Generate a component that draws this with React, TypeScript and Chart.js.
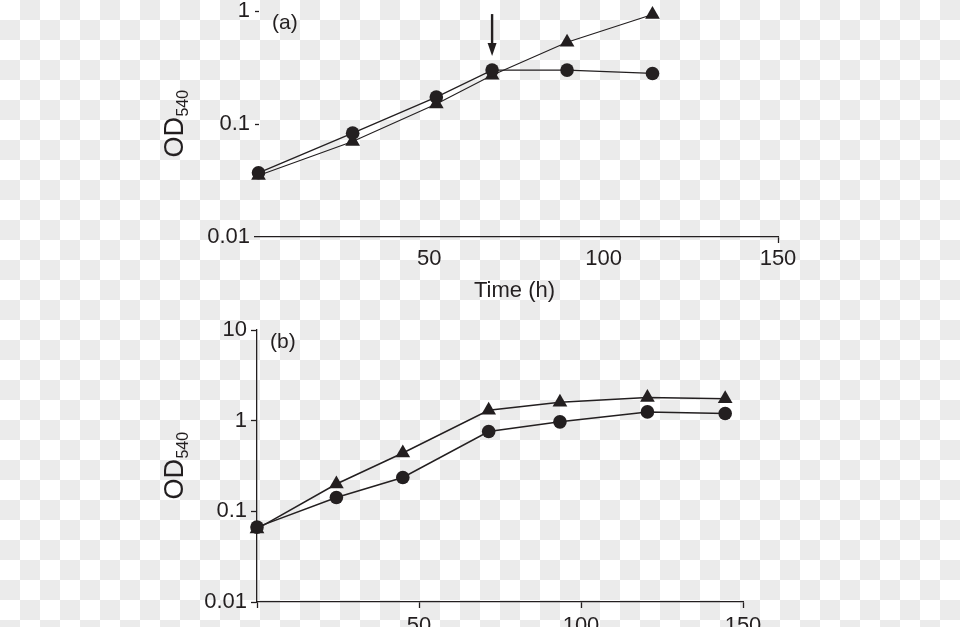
import React, { useEffect, useRef } from "react";
import { Chart, registerables } from "chart.js";

Chart.register(...registerables);

// ---- Data (panel a) ----
const timeA = [1, 28, 52, 68, 89.5, 114];
const odACircle = [0.037, 0.083, 0.173, 0.3, 0.3, 0.28];
const odATriangle = [0.035, 0.07, 0.15, 0.27, 0.53, 0.93];
const yTicksA = [0.01, 0.1, 1];
const yTickLabelsA = ["0.01", "0.1", "1"];
const xTicksA = [50, 100, 150];
const xTickLabelsA = ["50", "100", "150"];
const arrowTime = 68;
const arrowOD = 0.3;

// ---- Data (panel b) ----
const timeB = [0, 24.5, 45, 71.5, 93.5, 120.5, 144.5];
const odBCircle = [0.067, 0.142, 0.236, 0.76, 0.97, 1.25, 1.2];
const odBTriangle = [0.064, 0.2, 0.44, 1.3, 1.6, 1.8, 1.75];
const yTicksB = [0.01, 0.1, 1, 10];
const yTickLabelsB = ["0.01", "0.1", "1", "10"];
const xTicksB = [0, 50, 100, 150];
const xTickLabelsB = ["", "50", "100", "150"];

const INK = "#231f20";
const FONT = '"Liberation Sans", Arial, Helvetica, sans-serif';

function pts(xs: number[], ys: number[]) {
  return xs.map((x, i) => ({ x, y: ys[i] }));
}

function drawODTitle(ctx: CanvasRenderingContext2D, baseX: number, cy: number) {
  ctx.save();
  ctx.fillStyle = INK;
  ctx.translate(baseX, cy);
  ctx.rotate(-Math.PI / 2);
  ctx.textBaseline = "alphabetic";
  ctx.textAlign = "left";
  ctx.font = `27px ${FONT}`;
  const w1 = ctx.measureText("OD").width;
  ctx.font = `16px ${FONT}`;
  const w2 = ctx.measureText("540").width;
  const start = -(w1 + w2) / 2;
  ctx.font = `27px ${FONT}`;
  ctx.fillText("OD", start, 0);
  ctx.font = `16px ${FONT}`;
  ctx.fillText("540", start + w1 + 0.5, 5);
  ctx.restore();
}

function makeOptions(
  yMin: number,
  yMax: number,
  yTicks: number[],
  yLabels: string[],
  xTicks: number[],
  xLabels: string[],
  padding: any,
  showYBorder: boolean,
  yTickLen: number,
  yPad: number,
  xTickColor: (v: number) => string,
  xPad: number
): any {
  return {
    responsive: false,
    animation: false,
    devicePixelRatio: 1,
    layout: { padding },
    plugins: { legend: { display: false }, tooltip: { enabled: false } },
    scales: {
      x: {
        type: "linear",
        min: 0,
        max: 150,
        afterFit: (s: any) => {
          s.height = 40;
        },
        afterBuildTicks: (s: any) => {
          s.ticks = xTicks.map((v) => ({ value: v }));
        },
        ticks: {
          autoSkip: false,
          maxRotation: 0,
          padding: xPad,
          color: INK,
          font: { family: FONT, size: 22 },
          callback: (_v: any, i: number) => xLabels[i],
        },
        grid: {
          drawOnChartArea: false,
          drawTicks: true,
          tickLength: 6,
          tickWidth: 1.3,
          tickColor: (c: any) => xTickColor(c.tick ? c.tick.value : -1),
        },
        border: { display: true, color: INK, width: 1.3 },
      },
      y: {
        type: "logarithmic",
        min: yMin,
        max: yMax,
        afterFit: (s: any) => {
          s.width = 60;
        },
        afterBuildTicks: (s: any) => {
          s.ticks = yTicks.map((v) => ({ value: v }));
        },
        ticks: {
          autoSkip: false,
          padding: yPad,
          color: INK,
          font: { family: FONT, size: 22 },
          callback: (_v: any, i: number) => yLabels[i],
        },
        grid: {
          drawOnChartArea: false,
          drawTicks: yTickLen > 0,
          tickLength: yTickLen,
          tickWidth: 1.3,
          tickColor: INK,
        },
        border: { display: showYBorder, color: INK, width: 1.3 },
      },
    },
  };
}

function lineDs(data: any[], style: string, radius: number, width: number) {
  return {
    data,
    borderColor: INK,
    backgroundColor: INK,
    borderWidth: width,
    pointStyle: style,
    pointRadius: radius,
    pointBorderWidth: 0,
    pointBackgroundColor: INK,
    showLine: true,
    tension: 0,
    clip: false,
  };
}

export default function App() {
  const refA = useRef<HTMLCanvasElement>(null);
  const refB = useRef<HTMLCanvasElement>(null);

  useEffect(() => {
    const innerTicksA = yTicksA.filter((v) => v > yTicksA[0]);
    const plugA = {
      id: "panelA",
      afterDraw(chart: any) {
        const { ctx, chartArea, scales } = chart;
        const ys = scales.y;
        const xs = scales.x;
        ctx.save();
        ctx.strokeStyle = INK;
        ctx.lineWidth = 1.3;
        // inward short y ticks
        innerTicksA.forEach((v: number) => {
          const py = Math.round(ys.getPixelForValue(v)) + 0.5;
          ctx.beginPath();
          ctx.moveTo(chartArea.left, py);
          ctx.lineTo(chartArea.left + 4, py);
          ctx.stroke();
        });
        // arrow
        const ax = xs.getPixelForValue(arrowTime);
        const tip = ys.getPixelForValue(arrowOD) - 14;
        ctx.lineWidth = 2.4;
        ctx.beginPath();
        ctx.moveTo(ax, tip - 42);
        ctx.lineTo(ax, tip - 10);
        ctx.stroke();
        ctx.fillStyle = INK;
        ctx.beginPath();
        ctx.moveTo(ax - 4.5, tip - 13);
        ctx.lineTo(ax + 4.5, tip - 13);
        ctx.lineTo(ax, tip);
        ctx.closePath();
        ctx.fill();
        // labels
        ctx.fillStyle = INK;
        ctx.font = `21px ${FONT}`;
        ctx.textBaseline = "middle";
        ctx.textAlign = "left";
        ctx.fillText("(a)", chartArea.left + 17, chartArea.top + 12);
        ctx.font = `22px ${FONT}`;
        ctx.textAlign = "center";
        ctx.fillText("Time (h)", (chartArea.left + chartArea.right) / 2 - 2, chartArea.bottom + 54);
        ctx.restore();
        drawODTitle(ctx, chartArea.left - 72, (chartArea.top + chartArea.bottom) / 2);
      },
    };
    const plugB = {
      id: "panelB",
      afterDraw(chart: any) {
        const { ctx, chartArea } = chart;
        ctx.save();
        ctx.fillStyle = INK;
        ctx.font = `21px ${FONT}`;
        ctx.textBaseline = "middle";
        ctx.textAlign = "left";
        ctx.fillText("(b)", chartArea.left + 13, chartArea.top + 12);
        ctx.restore();
        drawODTitle(ctx, chartArea.left - 74, (chartArea.top + chartArea.bottom) / 2);
      },
    };

    const chartA = new Chart(refA.current as HTMLCanvasElement, {
      type: "scatter",
      data: {
        datasets: [
          lineDs(pts(timeA, odACircle), "circle", 6.8, 1.3),
          lineDs(pts(timeA, odATriangle), "triangle", 8.5, 1.1),
        ],
      },
      options: makeOptions(
        0.01,
        1,
        yTicksA,
        yTickLabelsA,
        xTicksA,
        xTickLabelsA,
        { left: 195, right: 182, top: 51, bottom: 350 },
        false,
        0,
        5,
        (v) => (v === 150 ? INK : "rgba(0,0,0,0)"),
        3
      ),
      plugins: [plugA],
    } as any);

    const chartB = new Chart(refB.current as HTMLCanvasElement, {
      type: "scatter",
      data: {
        datasets: [
          lineDs(pts(timeB, odBCircle), "circle", 6.8, 1.5),
          lineDs(pts(timeB, odBTriangle), "triangle", 8.5, 1.5),
        ],
      },
      options: makeOptions(
        0.01,
        10,
        yTicksB,
        yTickLabelsB,
        xTicksB,
        xTickLabelsB,
        { left: 197, right: 217, top: 330, bottom: 38 },
        true,
        6,
        4,
        () => INK,
        5
      ),
      plugins: [plugB],
    } as any);

    return () => {
      chartA.destroy();
      chartB.destroy();
    };
  }, []);

  return (
    <div
      style={{
        position: "fixed",
        left: 0,
        top: 0,
        width: 960,
        height: 627,
        overflow: "hidden",
        background: "repeating-conic-gradient(#ebebeb 0 25%, #ffffff 0 50%) 0 0 / 40px 40px",
      }}
    >
      <canvas
        ref={refA}
        width={960}
        height={667}
        style={{ position: "absolute", left: 0, top: -40, width: 960, height: 667 }}
      />
      <canvas
        ref={refB}
        width={960}
        height={680}
        style={{ position: "absolute", left: 0, top: 0, width: 960, height: 680 }}
      />
    </div>
  );
}
